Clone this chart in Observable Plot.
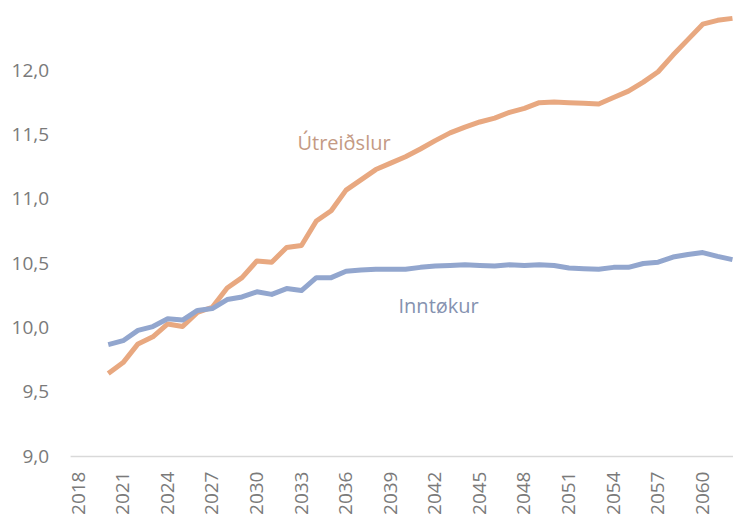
<!DOCTYPE html>
<html>
<head>
<meta charset="utf-8">
<script src="https://cdn.jsdelivr.net/npm/d3@7"></script>
<script src="https://cdn.jsdelivr.net/npm/@observablehq/plot@0.6"></script>
<style>
  html, body { margin: 0; padding: 0; background: #fff; overflow: hidden; }
  #chart svg { display: block; }
</style>
</head>
<body>
<div id="chart"></div>
<script>
const years = d3.range(2020, 2063);
const utreidslur = [
  9.645, 9.73, 9.875, 9.93, 10.03, 10.01, 10.12, 10.16, 10.31, 10.39,
  10.52, 10.51, 10.625, 10.64, 10.83, 10.91, 11.07, 11.15, 11.23, 11.28,
  11.33, 11.39, 11.455, 11.515, 11.56, 11.60, 11.63, 11.675, 11.705, 11.75,
  11.755, 11.75, 11.745, 11.74, 11.79, 11.84, 11.91, 11.99, 12.12, 12.24,
  12.36, 12.39, 12.405
];
const inntokur = [
  9.87, 9.90, 9.98, 10.01, 10.07, 10.06, 10.135, 10.15, 10.22, 10.24,
  10.28, 10.26, 10.305, 10.29, 10.39, 10.39, 10.44, 10.45, 10.455, 10.455,
  10.455, 10.47, 10.48, 10.485, 10.49, 10.485, 10.48, 10.49, 10.485, 10.49,
  10.485, 10.465, 10.46, 10.455, 10.47, 10.47, 10.50, 10.51, 10.55, 10.57,
  10.585, 10.555, 10.53
];
const seriesNames = ["Útreiðslur", "Inntøkur"];
const xTicks = d3.range(2018, 2061, 3);
const yTicks = [9, 9.5, 10, 10.5, 11, 11.5, 12];
// label anchors (year, value)
const labelX = [2032.73, 2039.53];
const labelY = [11.434, 10.166];

const colors = ["#e8a880", "#92a6ce"];
const labelColors = ["#c49a84", "#8592b0"];

const rows = [];
years.forEach((yr, i) => {
  rows.push({year: yr, value: utreidslur[i], series: seriesNames[0]});
  rows.push({year: yr, value: inntokur[i], series: seriesNames[1]});
});
const labels = seriesNames.map((s, i) => ({name: s, x: labelX[i], y: labelY[i], c: labelColors[i]}));

const fmt = d3.format(".1f");
const chart = Plot.plot({
  width: 733,
  height: 518,
  marginLeft: 70.6,
  marginRight: 0,
  marginTop: 0,
  marginBottom: 62,
  style: {fontFamily: "'Open Sans', sans-serif", fontSize: "19px", color: "#7a7a7a", background: "#fff"},
  x: {domain: [2017.5, 2062.07], ticks: xTicks, tickFormat: d => String(d), label: null},
  y: {domain: [9, 12.544], ticks: yTicks, tickFormat: d => fmt(d).replace(".", ","), label: null},
  color: {domain: seriesNames, range: colors},
  marks: [
    Plot.axisY({ticks: yTicks, tickSize: 0, tickPadding: 22, tickFormat: d => fmt(d).replace(".", ","), label: null, fill: "#7a7a7a"}),
    Plot.axisX({ticks: xTicks, tickSize: 0, tickPadding: 15, tickRotate: -90, tickFormat: d => String(d), label: null, fill: "#7a7a7a"}),
    Plot.ruleY([9], {stroke: "#d9d9d9", strokeWidth: 1.5}),
    Plot.line(rows, {x: "year", y: "value", z: "series", stroke: "series", strokeWidth: 5, strokeLinejoin: "round", strokeLinecap: "butt"}),
    Plot.text(labels, {x: "x", y: "y", text: "name", fill: "c", textAnchor: "start", fontSize: 20})
  ]
});
document.getElementById("chart").appendChild(chart);
</script>
</body>
</html>
